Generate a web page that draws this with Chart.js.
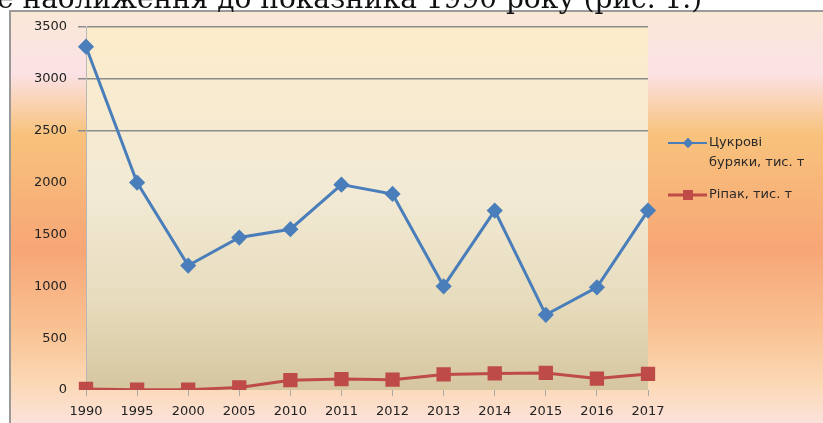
<!DOCTYPE html>
<html>
<head>
<meta charset="utf-8">
<script src="https://cdn.jsdelivr.net/npm/chart.js@4/dist/chart.umd.min.js"></script>
<style>
  html, body { margin: 0; padding: 0; background: #fff; }
  #wrap { position: relative; width: 823px; height: 423px; }
</style>
</head>
<body>
<div id="wrap"><canvas id="chart" width="823" height="423"></canvas></div>
<script>
const years = ["1990", "1995", "2000", "2005", "2010", "2011", "2012", "2013", "2014", "2015", "2016", "2017"];
const sugarBeet = [3310, 2000, 1200, 1470, 1550, 1980, 1890, 1000, 1730, 725, 990, 1730];
const rapeseed = [10, 3, 3, 25, 95, 105, 100, 150, 160, 165, 110, 155];
const seriesNames = [["Цукрові", "буряки, тис. т"], ["Ріпак, тис. т"]];
const caption = "е наближення до показника 1990 року (рис. 1.)";

const BLUE = "#4a7ebb";
const RED = "#be4b48";
const tickFont = { family: "DejaVu Sans", size: 13 };

// frame, page gradient, plot gradient and the cut-off line of text above
const backdrop = {
  id: "backdrop",
  beforeDraw(chart) {
    const { ctx, chartArea: a } = chart;
    ctx.save();
    ctx.fillStyle = "#fff";
    ctx.fillRect(0, 0, chart.width, chart.height);

    const g = ctx.createLinearGradient(0, 11, 0, 423);
    g.addColorStop(0.0, "#fae8d6");
    g.addColorStop(0.15, "#fbe2e6");
    g.addColorStop(0.3, "#f8c27c");
    g.addColorStop(0.58, "#f7a676");
    g.addColorStop(0.78, "#f9c394");
    g.addColorStop(0.9, "#fbd8b4");
    g.addColorStop(1.0, "#fce2da");
    ctx.fillStyle = g;
    ctx.fillRect(10, 11, 813, 412);

    ctx.strokeStyle = "#9a9a9a";
    ctx.lineWidth = 2;
    ctx.beginPath();
    ctx.moveTo(10, 423);
    ctx.lineTo(10, 11);
    ctx.lineTo(823, 11);
    ctx.stroke();

    const p = ctx.createLinearGradient(0, a.top, 0, a.bottom);
    p.addColorStop(0, "#fdeccb");
    p.addColorStop(0.45, "#f2ead5");
    p.addColorStop(0.75, "#e7dcbd");
    p.addColorStop(1, "#d5c69f");
    ctx.fillStyle = p;
    ctx.fillRect(a.left, a.top, a.right - a.left, a.bottom - a.top);

    ctx.fillStyle = "#111";
    ctx.font = '28px "DejaVu Serif"';
    ctx.textBaseline = "alphabetic";
    ctx.fillText(caption, -3, 8);
    ctx.restore();
  }
};

// legend on the right, with the wrapped first label
const sideLegend = {
  id: "sideLegend",
  afterDraw(chart) {
    const { ctx } = chart;
    const rows = [143, 195];
    ctx.save();
    ctx.font = '13px "DejaVu Sans"';
    ctx.textBaseline = "middle";
    chart.data.datasets.forEach((ds, i) => {
      const y = rows[i];
      ctx.strokeStyle = ds.borderColor;
      ctx.lineWidth = i === 0 ? 2 : 3;
      ctx.beginPath();
      ctx.moveTo(668, y);
      ctx.lineTo(707, y);
      ctx.stroke();
      ctx.fillStyle = ds.borderColor;
      Chart.helpers.drawPoint(ctx, { pointStyle: ds.pointStyle, radius: i === 0 ? 5 : 7, borderWidth: 0 }, 688, y);
      ctx.fill();
      ctx.fillStyle = "#2a2a2a";
      ds.label.forEach((line, j) => ctx.fillText(line, 709, y + j * 20));
    });
    ctx.restore();
  }
};

new Chart(document.getElementById("chart"), {
  type: "line",
  data: {
    labels: years,
    datasets: [
      {
        label: seriesNames[0],
        data: sugarBeet,
        borderColor: BLUE,
        backgroundColor: BLUE,
        borderWidth: 3,
        pointStyle: "rectRot",
        pointRadius: 6,
        pointHoverRadius: 6,
        tension: 0
      },
      {
        label: seriesNames[1],
        data: rapeseed,
        borderColor: RED,
        backgroundColor: RED,
        borderWidth: 3,
        pointStyle: "rect",
        pointRadius: 8,
        pointHoverRadius: 8,
        tension: 0
      }
    ]
  },
  options: {
    responsive: false,
    animation: false,
    devicePixelRatio: 1,
    layout: { padding: { top: 27, right: 175, left: 0, bottom: 0 } },
    plugins: { legend: { display: false }, tooltip: { enabled: false } },
    scales: {
      x: {
        offset: false,
        afterFit: (s) => { s.height = 33; },
        grid: { drawOnChartArea: false, drawTicks: true, tickLength: 6, color: "#a8a8a8" },
        border: { display: false },
        ticks: { color: "#222", font: tickFont, padding: 8, autoSkip: false, maxRotation: 0 }
      },
      y: {
        min: 0,
        max: 3500,
        afterFit: (s) => { s.width = 86; },
        grid: {
          tickLength: 8,
          lineWidth: 1.5,
          color: (c) => (c.tick && c.tick.value >= 2500 ? "#8c8c8c" : "rgba(0,0,0,0)")
        },
        border: { display: true, color: "#b8b8b8", width: 1 },
        ticks: { stepSize: 500, color: "#222", font: tickFont, padding: 11, callback: (v) => String(v) }
      }
    }
  },
  plugins: [backdrop, sideLegend]
});
</script>
</body>
</html>
